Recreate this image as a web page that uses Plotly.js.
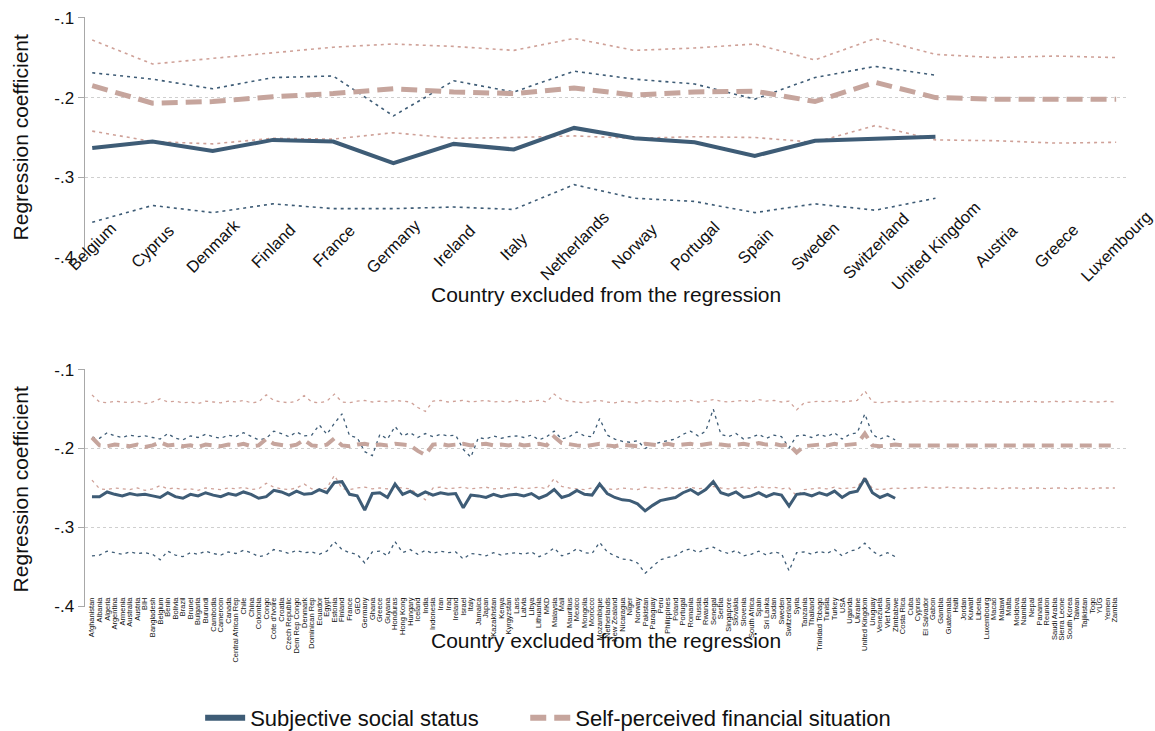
<!DOCTYPE html>
<html>
<head>
<meta charset="utf-8">
<script src="https://cdn.plot.ly/plotly-3.0.1.min.js"></script>
<style>
  html, body { margin: 0; padding: 0; background: #fff; }
  #chart { width: 1155px; height: 731px; }
</style>
</head>
<body>
<div id="chart"></div>
<script>
// ---- Upper panel: European countries ----
const topCountries = ["Belgium", "Cyprus", "Denmark", "Finland", "France", "Germany", "Ireland", "Italy",
  "Netherlands", "Norway", "Portugal", "Spain", "Sweden", "Switzerland", "United Kingdom",
  "Austria", "Greece", "Luxembourg"];

const topStatus    = [-0.263, -0.255, -0.267, -0.253, -0.255, -0.282, -0.258, -0.265, -0.238,
  -0.251, -0.256, -0.273, -0.254, -0.251, -0.249];
const topStatusHi  = [-0.169, -0.177, -0.189, -0.175, -0.173, -0.223, -0.179, -0.193, -0.167,
  -0.177, -0.183, -0.202, -0.175, -0.161, -0.172];
const topStatusLo  = [-0.356, -0.335, -0.344, -0.333, -0.339, -0.339, -0.337, -0.340, -0.309,
  -0.326, -0.330, -0.344, -0.333, -0.341, -0.326];

const topFinance   = [-0.185, -0.207, -0.205, -0.199, -0.195, -0.189, -0.193, -0.195, -0.188,
  -0.197, -0.193, -0.192, -0.205, -0.181, -0.200, -0.202, -0.202, -0.202];
const topFinanceHi = [-0.128, -0.158, -0.151, -0.144, -0.137, -0.133, -0.136, -0.141, -0.126,
  -0.141, -0.138, -0.133, -0.153, -0.126, -0.146, -0.150, -0.148, -0.150];
const topFinanceLo = [-0.242, -0.255, -0.258, -0.251, -0.252, -0.244, -0.251, -0.250, -0.248,
  -0.251, -0.249, -0.250, -0.256, -0.235, -0.253, -0.254, -0.257, -0.256];

// ---- Lower panel: all countries ----
const botCountries = ["Afghanistan", "Albania", "Algeria", "Argentina", "Armenia", "Australia", "Austria",
  "BIH", "Bangladesh", "Belgium", "Benin", "Bolivia", "Brazil", "Brunei", "Bulgaria", "Burundi",
  "Cambodia", "Cameroon", "Canada", "Central African Rep", "Chile", "China", "Colombia", "Congo",
  "Cote d'Ivoire", "Croatia", "Czech Republic", "Dem Rep Congo", "Denmark", "Dominican Rep",
  "Ecuador", "Egypt", "Estonia", "Finland", "France", "GEO", "Germany", "Ghana", "Greece", "Guyana",
  "Honduras", "Hong Kong", "Hungary", "Iceland", "India", "Indonesia", "Iran", "Iraq", "Ireland",
  "Israel", "Italy", "Jamaica", "Japan", "Kazakhstan", "Kenya", "Kyrgyzstan", "Laos", "Latvia",
  "Libya", "Lithuania", "MKD", "Malaysia", "Mali", "Mauritius", "Mexico", "Mongolia", "Morocco",
  "Mozambique", "Netherlands", "New Zealand", "Nicaragua", "Niger", "Norway", "Pakistan",
  "Paraguay", "Peru", "Philippines", "Poland", "Portugal", "Romania", "Russia", "Rwanda",
  "Senegal", "Serbia", "Singapore", "Slovakia", "Slovenia", "South Africa", "Spain", "Sri Lanka",
  "Sudan", "Sweden", "Switzerland", "Syria", "Tanzania", "Thailand", "Trinidad Tobago", "Tunisia",
  "Turkey", "USA", "Uganda", "Ukraine", "United Kingdom", "Uruguay", "Venezuela", "Viet Nam",
  "Zimbabwe", "Costa Rica", "Cuba", "Cyprus", "El Salvador", "Gabon", "Gambia", "Guatemala",
  "Haiti", "Jordan", "Kuwait", "Liberia", "Luxembourg", "Macao", "Malawi", "Malta", "Moldova",
  "Namibia", "Nepal", "Panama", "Reunion", "Saudi Arabia", "Sierra Leone", "South Korea",
  "Taiwan", "Tajikistan", "Togo", "YUG", "Yemen", "Zambia"];

const botStatus = [-0.261, -0.261, -0.255, -0.258, -0.260, -0.257, -0.259, -0.258, -0.260, -0.262,
  -0.256, -0.261, -0.263, -0.258, -0.260, -0.256, -0.259, -0.261, -0.257, -0.259,
  -0.255, -0.258, -0.263, -0.261, -0.253, -0.255, -0.259, -0.254, -0.258, -0.257,
  -0.252, -0.256, -0.243, -0.242, -0.258, -0.260, -0.278, -0.257, -0.256, -0.262,
  -0.245, -0.258, -0.254, -0.260, -0.255, -0.259, -0.256, -0.258, -0.257, -0.275,
  -0.259, -0.260, -0.262, -0.258, -0.261, -0.259, -0.258, -0.260, -0.257, -0.263,
  -0.259, -0.252, -0.262, -0.259, -0.253, -0.258, -0.259, -0.245, -0.257, -0.262,
  -0.265, -0.266, -0.270, -0.279, -0.272, -0.266, -0.264, -0.262, -0.256, -0.252,
  -0.258, -0.252, -0.242, -0.256, -0.259, -0.255, -0.262, -0.260, -0.256, -0.261,
  -0.257, -0.259, -0.273, -0.258, -0.257, -0.260, -0.256, -0.259, -0.254, -0.262,
  -0.256, -0.254, -0.238, -0.256, -0.262, -0.258, -0.263];
const botStatusHi = [-0.186, -0.187, -0.180, -0.184, -0.186, -0.183, -0.185, -0.184, -0.186, -0.188,
  -0.181, -0.187, -0.189, -0.184, -0.186, -0.182, -0.185, -0.187, -0.183, -0.185,
  -0.180, -0.184, -0.189, -0.187, -0.178, -0.181, -0.185, -0.179, -0.184, -0.183,
  -0.170, -0.182, -0.168, -0.156, -0.184, -0.186, -0.204, -0.209, -0.182, -0.188,
  -0.172, -0.184, -0.180, -0.186, -0.181, -0.185, -0.182, -0.184, -0.183, -0.201,
  -0.211, -0.186, -0.188, -0.184, -0.187, -0.185, -0.184, -0.186, -0.183, -0.189,
  -0.185, -0.178, -0.188, -0.185, -0.179, -0.184, -0.185, -0.162, -0.183, -0.188,
  -0.191, -0.192, -0.190, -0.200, -0.195, -0.192, -0.190, -0.188, -0.182, -0.178,
  -0.184, -0.178, -0.150, -0.182, -0.185, -0.181, -0.188, -0.186, -0.182, -0.187,
  -0.183, -0.185, -0.199, -0.184, -0.183, -0.186, -0.182, -0.185, -0.180, -0.188,
  -0.182, -0.180, -0.156, -0.182, -0.188, -0.184, -0.189];
const botStatusLo = [-0.336, -0.335, -0.330, -0.332, -0.334, -0.331, -0.333, -0.332, -0.334, -0.341,
  -0.330, -0.335, -0.337, -0.332, -0.334, -0.330, -0.333, -0.335, -0.331, -0.333,
  -0.329, -0.332, -0.337, -0.335, -0.328, -0.330, -0.333, -0.329, -0.332, -0.331,
  -0.334, -0.330, -0.318, -0.328, -0.332, -0.334, -0.345, -0.331, -0.330, -0.336,
  -0.318, -0.332, -0.328, -0.334, -0.329, -0.333, -0.330, -0.332, -0.331, -0.340,
  -0.333, -0.334, -0.336, -0.332, -0.335, -0.333, -0.332, -0.334, -0.331, -0.337,
  -0.333, -0.326, -0.336, -0.333, -0.327, -0.332, -0.333, -0.319, -0.331, -0.336,
  -0.340, -0.341, -0.345, -0.358, -0.349, -0.341, -0.338, -0.336, -0.330, -0.327,
  -0.332, -0.327, -0.325, -0.330, -0.333, -0.329, -0.336, -0.334, -0.330, -0.335,
  -0.331, -0.333, -0.355, -0.332, -0.331, -0.334, -0.330, -0.333, -0.328, -0.336,
  -0.330, -0.328, -0.320, -0.330, -0.336, -0.332, -0.337];

const botFinance = [-0.186, -0.196, -0.197, -0.195, -0.196, -0.197, -0.195, -0.198, -0.196, -0.192,
  -0.196, -0.195, -0.197, -0.196, -0.198, -0.195, -0.196, -0.197, -0.195, -0.196,
  -0.194, -0.197, -0.196, -0.188, -0.194, -0.196, -0.197, -0.195, -0.189, -0.196,
  -0.197, -0.195, -0.187, -0.196, -0.197, -0.195, -0.194, -0.196, -0.195, -0.196,
  -0.194, -0.195, -0.196, -0.203, -0.208, -0.195, -0.194, -0.196, -0.195, -0.194,
  -0.196, -0.195, -0.194, -0.196, -0.195, -0.196, -0.194, -0.196, -0.195, -0.194,
  -0.196, -0.185, -0.193, -0.195, -0.196, -0.197, -0.195, -0.194, -0.196, -0.197,
  -0.195, -0.196, -0.197, -0.194, -0.195, -0.196, -0.194, -0.196, -0.195, -0.194,
  -0.196, -0.195, -0.193, -0.195, -0.196, -0.195, -0.194, -0.196, -0.193, -0.195,
  -0.194, -0.196, -0.195, -0.205, -0.197, -0.196, -0.195, -0.196, -0.194, -0.196,
  -0.195, -0.194, -0.181, -0.196, -0.197, -0.196, -0.195, -0.196, -0.196, -0.195,
  -0.195, -0.196, -0.195, -0.195, -0.196, -0.195, -0.196, -0.195, -0.196, -0.195,
  -0.196, -0.196, -0.195, -0.196, -0.195, -0.196, -0.196, -0.195, -0.196, -0.195,
  -0.196, -0.195, -0.196, -0.196, -0.195, -0.196];
const botFinanceHi = [-0.132, -0.141, -0.142, -0.140, -0.141, -0.142, -0.140, -0.143, -0.141, -0.137,
  -0.141, -0.140, -0.142, -0.141, -0.143, -0.140, -0.141, -0.142, -0.140, -0.141,
  -0.139, -0.142, -0.141, -0.132, -0.139, -0.141, -0.142, -0.140, -0.133, -0.141,
  -0.142, -0.140, -0.131, -0.141, -0.142, -0.140, -0.139, -0.141, -0.140, -0.141,
  -0.139, -0.140, -0.141, -0.148, -0.153, -0.140, -0.139, -0.141, -0.140, -0.139,
  -0.141, -0.140, -0.139, -0.141, -0.140, -0.141, -0.139, -0.141, -0.140, -0.139,
  -0.141, -0.131, -0.138, -0.140, -0.141, -0.142, -0.140, -0.139, -0.141, -0.142,
  -0.140, -0.141, -0.142, -0.139, -0.140, -0.141, -0.139, -0.141, -0.140, -0.139,
  -0.141, -0.140, -0.138, -0.140, -0.141, -0.140, -0.139, -0.141, -0.138, -0.140,
  -0.139, -0.141, -0.140, -0.151, -0.142, -0.141, -0.140, -0.141, -0.139, -0.141,
  -0.140, -0.139, -0.127, -0.141, -0.142, -0.141, -0.140, -0.141, -0.141, -0.140,
  -0.140, -0.141, -0.140, -0.140, -0.141, -0.140, -0.141, -0.140, -0.141, -0.140,
  -0.141, -0.141, -0.140, -0.141, -0.140, -0.141, -0.141, -0.140, -0.141, -0.140,
  -0.141, -0.140, -0.141, -0.141, -0.140, -0.141];
const botFinanceLo = [-0.240, -0.251, -0.252, -0.250, -0.251, -0.252, -0.250, -0.253, -0.251, -0.247,
  -0.251, -0.250, -0.252, -0.251, -0.253, -0.250, -0.251, -0.252, -0.250, -0.251,
  -0.249, -0.252, -0.251, -0.244, -0.249, -0.251, -0.252, -0.250, -0.245, -0.251,
  -0.252, -0.250, -0.234, -0.251, -0.252, -0.250, -0.249, -0.251, -0.250, -0.251,
  -0.249, -0.250, -0.251, -0.258, -0.265, -0.250, -0.249, -0.251, -0.250, -0.249,
  -0.251, -0.250, -0.249, -0.251, -0.250, -0.251, -0.249, -0.251, -0.250, -0.249,
  -0.251, -0.238, -0.248, -0.250, -0.251, -0.252, -0.250, -0.249, -0.251, -0.252,
  -0.250, -0.251, -0.252, -0.249, -0.250, -0.251, -0.249, -0.251, -0.250, -0.249,
  -0.251, -0.250, -0.248, -0.250, -0.251, -0.250, -0.249, -0.251, -0.248, -0.250,
  -0.249, -0.251, -0.250, -0.260, -0.252, -0.251, -0.250, -0.251, -0.249, -0.251,
  -0.250, -0.249, -0.236, -0.251, -0.252, -0.251, -0.250, -0.251, -0.250, -0.250,
  -0.249, -0.250, -0.250, -0.249, -0.250, -0.250, -0.250, -0.251, -0.250, -0.250,
  -0.251, -0.250, -0.250, -0.251, -0.250, -0.250, -0.251, -0.250, -0.250, -0.251,
  -0.250, -0.250, -0.251, -0.250, -0.250, -0.250];

const yTickVals = [-0.4, -0.3, -0.2, -0.1];
const yTickText = ["-.4", "-.3", "-.2", "-.1"];

// ---- styling ----
const BLUE = "#3e5c76";
const PINK = "#c6a59d";
const PINK_CI = "#cfa198";
const FONT = "Liberation Sans, Arial, sans-serif";

function line(x, y, xa, ya, color, width, dash, name, legendId) {
  const t = {
    type: "scatter", mode: "lines", x: x, y: y, xaxis: xa, yaxis: ya,
    name: name || "", showlegend: !!legendId, hoverinfo: "skip",
    line: { color: color, width: width, dash: dash }
  };
  if (legendId) t.legend = legendId;
  return t;
}

const dotted = "3px,4px";
const traces = [
  // upper panel
  line(topCountries.slice(0, topStatusHi.length), topStatusHi, "x", "y", BLUE, 1.6, dotted),
  line(topCountries.slice(0, topStatusLo.length), topStatusLo, "x", "y", BLUE, 1.6, dotted),
  line(topCountries, topFinanceHi, "x", "y", PINK_CI, 1.6, dotted),
  line(topCountries, topFinanceLo, "x", "y", PINK_CI, 1.6, dotted),
  line(topCountries, topFinance, "x", "y", PINK, 5, "16px,8px"),
  line(topCountries.slice(0, topStatus.length), topStatus, "x", "y", BLUE, 4, "solid"),
  // lower panel
  line(botCountries.slice(0, botStatusHi.length), botStatusHi, "x2", "y2", BLUE, 1.3, dotted),
  line(botCountries.slice(0, botStatusLo.length), botStatusLo, "x2", "y2", BLUE, 1.3, dotted),
  line(botCountries, botFinanceHi, "x2", "y2", PINK_CI, 1.3, dotted),
  line(botCountries, botFinanceLo, "x2", "y2", PINK_CI, 1.3, dotted),
  line(botCountries, botFinance, "x2", "y2", PINK, 4, "12px,7px"),
  line(botCountries.slice(0, botStatus.length), botStatus, "x2", "y2", BLUE, 3, "solid"),
  // legend entries
  line([null], [null], "x", "y", BLUE, 6, "solid", "Subjective social status", "legend"),
  line([null], [null], "x", "y", PINK, 6, "16px,8px", "Self-perceived financial situation", "legend2")
];

const yAxisBase = {
  range: [-0.4008, -0.0992],
  tickmode: "array", tickvals: yTickVals, ticktext: yTickText,
  showgrid: true, gridcolor: "#cfcfcf", griddash: "dot", gridwidth: 1,
  zeroline: false, showline: true, linecolor: "#a8a8a8", linewidth: 1.5,
  ticks: "outside", ticklen: 6, tickcolor: "#a8a8a8", tickwidth: 1.5,
  tickfont: { family: FONT, size: 17, color: "#111" }
};

const legendBase = {
  orientation: "h", xanchor: "left", y: -0.188, yanchor: "middle",
  font: { family: FONT, size: 22, color: "#111" }, itemwidth: 40,
  bgcolor: "rgba(0,0,0,0)"
};

const layout = {
  width: 1155, height: 731,
  margin: { l: 85, r: 28, t: 17, b: 124, autoexpand: false },
  paper_bgcolor: "#fff", plot_bgcolor: "#fff",
  font: { family: FONT, color: "#111" },
  xaxis: {
    type: "category", categoryorder: "array", categoryarray: topCountries,
    range: [-0.12, 17.18], showgrid: false, zeroline: false, showline: false,
    ticks: "", showticklabels: false, anchor: "y"
  },
  yaxis: Object.assign({}, yAxisBase, { domain: [0.5915, 1], anchor: "x" }),
  xaxis2: {
    type: "category", categoryorder: "array", categoryarray: botCountries,
    range: [-0.92, 136.6], showgrid: false, zeroline: false, showline: false,
    ticks: "", tickmode: "array", tickvals: botCountries, ticktext: botCountries,
    tickangle: -90, ticklabelstandoff: -12,
    tickfont: { family: FONT, size: 7.5, color: "#111" }, anchor: "y2"
  },
  yaxis2: Object.assign({}, yAxisBase, { domain: [0, 0.4034], anchor: "x2" }),
  showlegend: true,
  legend: Object.assign({}, legendBase, { x: 0.1105 }),
  legend2: Object.assign({}, legendBase, { x: 0.4225 }),
  annotations: []
};

// Rotated country labels of the upper panel, centred on their category
topCountries.forEach(function (c) {
  layout.annotations.push({
    x: c, xref: "x", y: 0.612, yref: "paper", text: c, showarrow: false,
    textangle: -45, xanchor: "center", yanchor: "middle",
    font: { family: FONT, size: 16.5, color: "#111" }
  });
});

// Axis titles
const xTitle = "Country excluded from the regression";
const yTitle = "Regression coefficient";
layout.annotations.push(
  { x: 0.5, xref: "paper", y: 0.5303, yref: "paper", text: xTitle, showarrow: false,
    xanchor: "center", yanchor: "middle", font: { family: FONT, size: 21, color: "#111" } },
  { x: 0.5, xref: "paper", y: -0.056, yref: "paper", text: xTitle, showarrow: false,
    xanchor: "center", yanchor: "middle", font: { family: FONT, size: 21, color: "#111" } },
  { x: -0.062, xref: "paper", y: 0.7966, yref: "paper", text: yTitle, showarrow: false,
    textangle: -90, xanchor: "center", yanchor: "middle", font: { family: FONT, size: 21, color: "#111" } },
  { x: -0.062, xref: "paper", y: 0.2, yref: "paper", text: yTitle, showarrow: false,
    textangle: -90, xanchor: "center", yanchor: "middle", font: { family: FONT, size: 21, color: "#111" } }
);

Plotly.newPlot("chart", traces, layout, { staticPlot: true, displayModeBar: false });
</script>
</body>
</html>
